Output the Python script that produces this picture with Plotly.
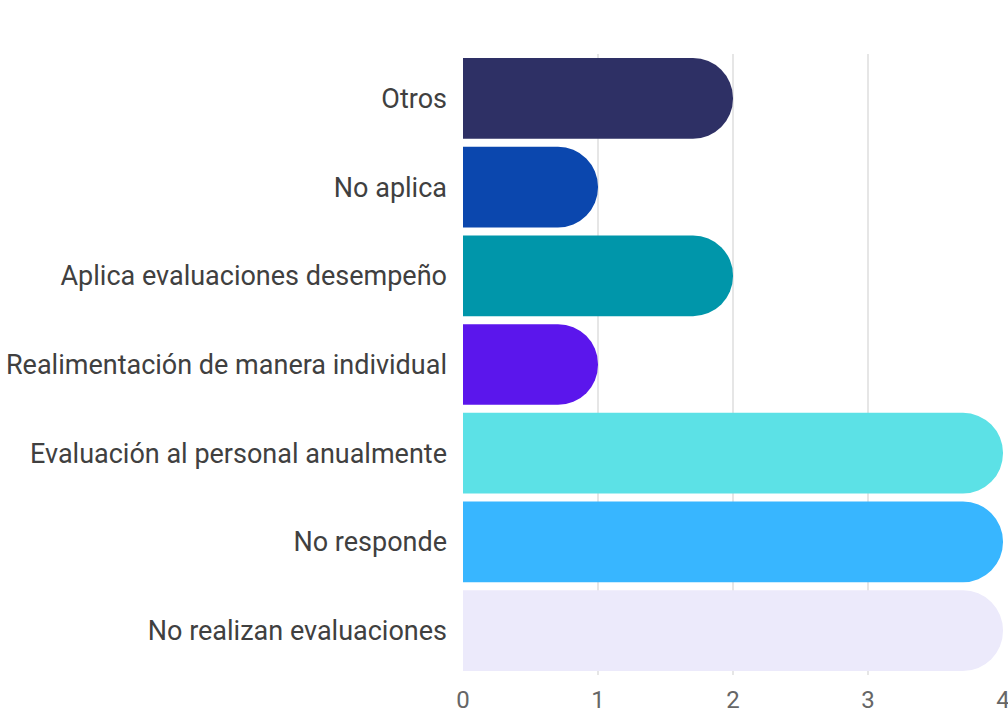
import plotly.graph_objects as go

categories = [
    "Otros",
    "No aplica",
    "Aplica evaluaciones desempeño",
    "Realimentación de manera individual",
    "Evaluación al personal anualmente",
    "No responde",
    "No realizan evaluaciones",
]
values = [2, 1, 2, 1, 4, 4, 4]
colors = ["#2E3065", "#0B47AE", "#0096AA", "#5B16EC", "#5CE1E6", "#38B6FF", "#ECEAFB"]
tick_vals = [0, 1, 2, 3, 4]

fig = go.Figure(
    go.Bar(
        y=categories,
        x=values,
        orientation="h",
        marker=dict(color=colors, line=dict(width=0)),
        hoverinfo="x+y",
    )
)

fig.update_layout(
    width=1008,
    height=717,
    margin=dict(l=463, r=5, t=54, b=42, autoexpand=False),
    paper_bgcolor="white",
    plot_bgcolor="white",
    bargap=0.09,
    barcornerradius=40,
    font=dict(family="Roboto", size=20, color="#444444"),
    showlegend=False,
)
fig.update_xaxes(
    range=[0, 4],
    tickvals=tick_vals,
    showgrid=True,
    gridcolor="#E6E6E6",
    gridwidth=2,
    zeroline=False,
    showline=False,
    ticks="",
    automargin=False,
    ticklabeloverflow="allow",
    ticklabelstandoff=8,
    tickfont=dict(size=24, color="#666666"),
)
fig.update_yaxes(
    categoryorder="array",
    categoryarray=categories,
    autorange="reversed",
    showgrid=False,
    zeroline=False,
    showline=False,
    ticks="",
    automargin=False,
    ticklabelstandoff=15,
    tickfont=dict(size=27, color="#404040"),
)

fig.write_html("out.html")
